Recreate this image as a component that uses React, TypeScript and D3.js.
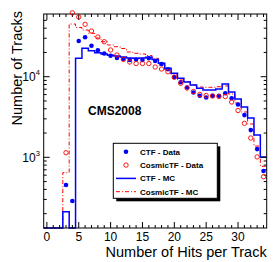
import React from 'react';
import * as d3 from 'd3';

const bins = [0,1,2,3,4,5,6,7,8,9,10,11,12,13,14,15,16,17,18,19,20,21,22,23,24,25,26,27,28,29,30,31,32,33,34];
const ctfData = [0,0,0,453,287,27730,30830,24240,21260,19400,18220,17060,16580,16120,16350,16120,16920,15660,14370,12360,9910,8545,7345,6370,5810,5520,5795,5795,6225,5395,4520,3340,2175,1264,676];
const cosmicData = [0,0,0,1140,62000,55000,44700,36900,31100,27200,21450,18590,16440,15220,14580,14580,14580,13190,12460,11530,9830,8285,7240,6550,6015,5845,5760,5680,5680,4855,3807,2640,1735,1010,574];
const ctfMC = [0,0,0,211,0,16920,22500,21000,19860,19130,18430,18070,17560,17060,16920,17060,17410,16350,14660,12710,11020,9550,8590,7890,7180,6840,6840,7040,8120,6460,5290,4210,3070,1890,1010];
const cosmicMC = [0,0,0,645,45060,40770,37960,34550,30200,27190,24740,23560,22390,20250,19510,19130,18320,16920,13970,12110,10500,9100,8670,7890,7450,7390,7390,7515,7670,6100,4720,3650,2590,1380,773];
const xTicks = [0,5,10,15,20,25,30];
const yMajor = [1000,10000];
const legendLabels = ['CTF - Data','CosmicTF - Data','CTF - MC','CosmicTF - MC'];

const W = 273, H = 262;
const L = 43.7, R = 266.7, T = 14, B = 228;
const BLUE = '#0000ff', RED = '#ff0000';
const FONT = '"Liberation Sans", Arial, Helvetica, sans-serif';

export default function App() {
  const x = d3.scaleLinear().domain([-0.5, 34.5]).range([L, R]);
  const y = d3.scaleLog().domain([132.7, 59980]).range([B, T]);
  const yc = (v: number) => y(Math.max(132.7, Math.min(59980, v || 132.7)));

  const stepPath = (vals: number[]) => {
    let p = `M${x(-0.5)},${yc(vals[0])}`;
    vals.forEach((v, i) => {
      p += `V${yc(v)}H${x(bins[i] + 0.5)}`;
    });
    return p;
  };

  const xMinor = d3.range(0, 35);
  const yMinorVals: number[] = [];
  [100, 1000, 10000].forEach(d => {
    for (let k = 2; k <= 9; k++) {
      const v = d * k;
      if (v >= 132.7 && v <= 59980) yMinorVals.push(v);
    }
  });

  const lx = 113.3, ly = 143.3, lw = 104, lh = 55;
  const rowY = (i: number) => ly + 8.5 + i * 13.3;

  return (
    <svg width={W} height={H} style={{ position: 'absolute', left: 0, top: 0, background: '#fff' }} fontFamily={FONT}>
      <rect x={0} y={0} width={W} height={H} fill="#fff" />
      <path d={stepPath(cosmicMC)} fill="none" stroke={RED} strokeWidth={1} strokeDasharray="4,2,1,2" />
      <path d={stepPath(ctfMC)} fill="none" stroke={BLUE} strokeWidth={1.5} />
      <rect x={L} y={T} width={R - L} height={B - T} fill="none" stroke="#000" strokeWidth={1} />
      {xMinor.map(v => {
        const major = v % 5 === 0;
        const len = major ? 6 : 3;
        return (
          <g key={'xt' + v}>
            <line x1={x(v)} x2={x(v)} y1={B} y2={B - len} stroke="#000" />
            <line x1={x(v)} x2={x(v)} y1={T} y2={T + len} stroke="#000" />
          </g>
        );
      })}
      {xTicks.map(v => (
        <text key={'xl' + v} x={x(v)} y={240.5} fontSize={12} textAnchor="middle" fill="#000">{v}</text>
      ))}
      {yMinorVals.map(v => (
        <g key={'ym' + v}>
          <line x1={L} x2={L + 3} y1={y(v)} y2={y(v)} stroke="#000" />
          <line x1={R} x2={R - 3} y1={y(v)} y2={y(v)} stroke="#000" />
        </g>
      ))}
      {yMajor.map(v => (
        <g key={'yM' + v}>
          <line x1={L} x2={L + 6} y1={y(v)} y2={y(v)} stroke="#000" />
          <line x1={R} x2={R - 6} y1={y(v)} y2={y(v)} stroke="#000" />
          <text x={L - 8} y={y(v) + 4.5} fontSize={12} textAnchor="end" fill="#000">10</text>
          <text x={L - 8} y={y(v) - 1.5} fontSize={7.5} textAnchor="start" fill="#000">{Math.round(Math.log10(v))}</text>
        </g>
      ))}
      {ctfData.map((v, i) => v > 0 ? (
        <circle key={'cd' + i} cx={x(bins[i])} cy={y(v)} r={2.3} fill={BLUE} />
      ) : null)}
      {cosmicData.map((v, i) => v > 0 ? (
        <circle key={'od' + i} cx={x(bins[i])} cy={y(v)} r={2.2} fill="none" stroke={RED} strokeWidth={0.9} />
      ) : null)}
      <text x={R} y={256.5} fontSize={14.5} textAnchor="end" fill="#000">Number of Hits per Track</text>
      <text transform={`translate(21.5,11) rotate(-90)`} fontSize={14.5} textAnchor="end" fill="#000">Number of Tracks</text>
      <text x={88} y={115} fontSize={12} fontWeight="bold" fill="#000">CMS2008</text>
      <rect x={lx + 3} y={ly + 3} width={lw} height={lh} fill="#000" />
      <rect x={lx} y={ly} width={lw} height={lh} fill="#fff" stroke="#000" strokeWidth={1} />
      <circle cx={126} cy={rowY(0)} r={2.3} fill={BLUE} />
      <circle cx={126} cy={rowY(1)} r={2.2} fill="none" stroke={RED} strokeWidth={0.9} />
      <line x1={116} x2={136} y1={rowY(2)} y2={rowY(2)} stroke={BLUE} strokeWidth={1.5} />
      <line x1={116} x2={136} y1={rowY(3)} y2={rowY(3)} stroke={RED} strokeWidth={1} strokeDasharray="4,2,1,2" />
      {legendLabels.map((t, i) => (
        <text key={t} x={140} y={rowY(i) + 3} fontSize={8} fontWeight="bold" fill="#000">{t}</text>
      ))}
    </svg>
  );
}
